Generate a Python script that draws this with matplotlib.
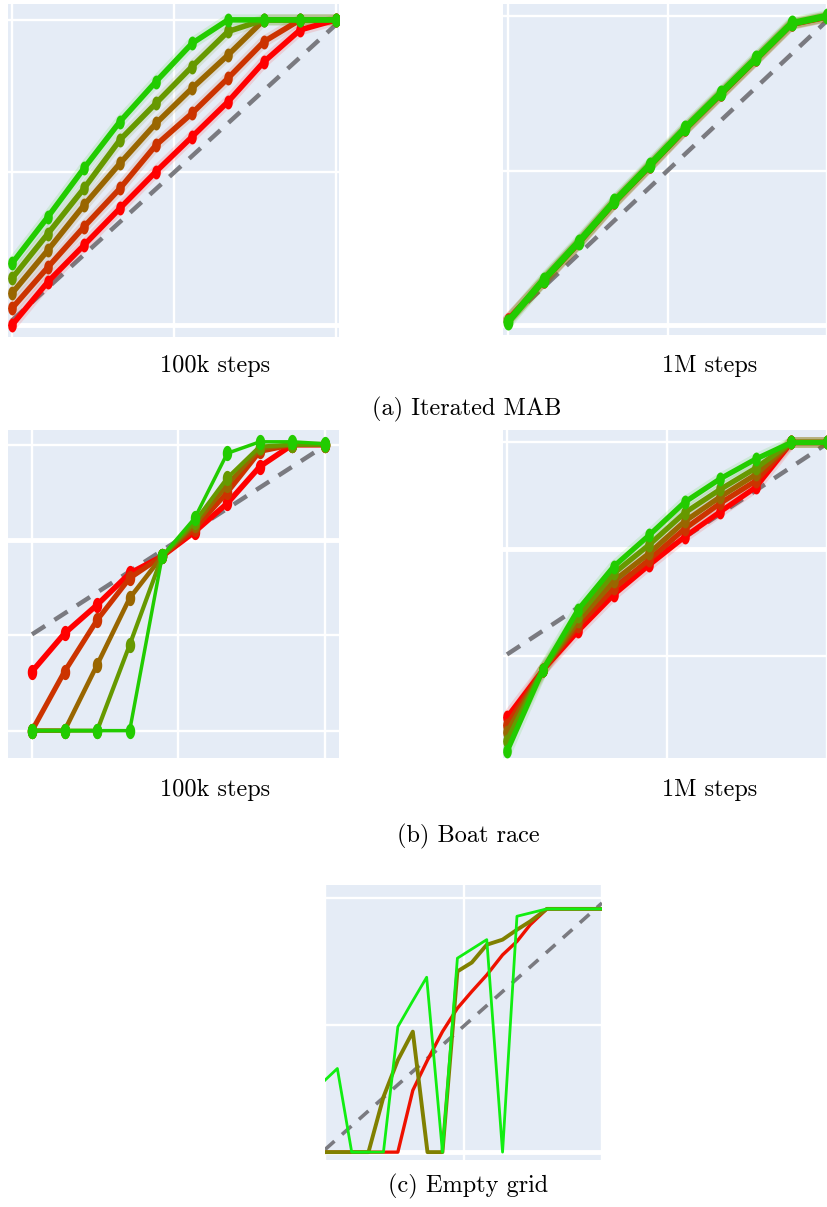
import numpy as np
import matplotlib.pyplot as plt

W, H = 827, 1207

steps = np.linspace(0, 1, 10)
colors = ['#ff0000', '#cc3300', '#996600', '#669900', '#22cc00']

# (a) Iterated MAB, 100k steps (red -> green)
mab_100k = [
    [0.0, 0.142, 0.262, 0.383, 0.503, 0.617, 0.732, 0.863, 0.967, 1.0],
    [0.055, 0.19, 0.322, 0.448, 0.59, 0.694, 0.809, 0.929, 1.0, 1.0],
    [0.104, 0.246, 0.393, 0.53, 0.661, 0.776, 0.885, 1.0, 1.0, 1.0],
    [0.153, 0.3, 0.448, 0.607, 0.727, 0.847, 0.962, 1.0, 1.0, 1.0],
    [0.202, 0.355, 0.514, 0.667, 0.798, 0.923, 1.0, 1.0, 1.0, 1.0],
]
# (a) Iterated MAB, 1M steps
mab_1m = [
    [0.02, 0.141, 0.265, 0.395, 0.513, 0.632, 0.745, 0.858, 0.972, 0.996],
    [0.018, 0.143, 0.267, 0.397, 0.515, 0.634, 0.747, 0.86, 0.974, 0.997],
    [0.015, 0.144, 0.268, 0.398, 0.516, 0.635, 0.748, 0.861, 0.975, 0.998],
    [0.013, 0.145, 0.269, 0.399, 0.517, 0.636, 0.749, 0.862, 0.975, 0.999],
    [0.011, 0.146, 0.27, 0.4, 0.518, 0.637, 0.75, 0.863, 0.976, 1.0],
]
mab_diag = [0.015, 0.985]

# (b) Boat race
boat_100k = [
    [-1.38, -0.98, -0.68, -0.35, -0.17, 0.087, 0.385, 0.77, 1.0, 1.0],
    [-2.0, -1.38, -0.84, -0.40, -0.17, 0.12, 0.5, 0.93, 1.0, 1.0],
    [-2.0, -2.0, -1.31, -0.61, -0.17, 0.16, 0.58, 0.96, 1.0, 1.0],
    [-2.0, -2.0, -2.0, -1.10, -0.17, 0.19, 0.65, 0.98, 1.0, 1.0],
    [-2.0, -2.0, -2.0, -2.0, -0.17, 0.23, 0.91, 1.03, 1.03, 1.01],
]
boat_1m = [
    [-1.58, -1.14, -0.77, -0.43, -0.15, 0.115, 0.35, 0.58, 1.0, 1.0],
    [-1.65, -1.14, -0.72, -0.37, -0.10, 0.19, 0.43, 0.64, 1.0, 1.0],
    [-1.72, -1.14, -0.68, -0.30, -0.04, 0.26, 0.49, 0.70, 1.0, 1.0],
    [-1.80, -1.14, -0.63, -0.23, 0.04, 0.34, 0.56, 0.76, 1.0, 1.0],
    [-1.90, -1.14, -0.57, -0.165, 0.13, 0.44, 0.66, 0.845, 1.0, 1.0],
]
boat_diag = [-0.99, 0.99]

# (c) Empty grid
grid_red_x = [0.0, 0.263, 0.317, 0.370, 0.424, 0.478, 0.530, 0.584, 0.641, 0.693, 0.741, 0.801, 1.0]
grid_red_y = [0.0, 0.0, 0.243, 0.362, 0.474, 0.566, 0.632, 0.697, 0.776, 0.829, 0.895, 0.957, 0.957]
grid_olive_x = [0.0, 0.157, 0.211, 0.263, 0.317, 0.370, 0.424, 0.478, 0.530, 0.584, 0.641, 0.693, 0.741, 0.801, 1.0]
grid_olive_y = [0.0, 0.0, 0.217, 0.362, 0.474, 0.0, 0.0, 0.711, 0.746, 0.816, 0.836, 0.875, 0.908, 0.957, 0.957]
grid_green_x = [0.0, 0.0446, 0.0964, 0.211, 0.263, 0.313, 0.367, 0.424, 0.478, 0.584, 0.641, 0.693, 0.801, 1.0]
grid_green_y = [0.283, 0.329, 0.0, 0.0, 0.493, 0.588, 0.688, 0.0, 0.763, 0.836, 0.0, 0.928, 0.957, 0.957]
grid_diag = [0.01, 0.98]

t = np.linspace(0, 2 * np.pi, 40)
ellipse = np.column_stack([0.62 * np.cos(t), np.sin(t)])

fig = plt.figure(figsize=(W / 100, H / 100), dpi=100)


def add_panel(x0, x1, y0, y1, xlim, ylim, yticks):
    ax = fig.add_axes([x0 / W, 1 - y1 / H, (x1 - x0) / W, (y1 - y0) / H])
    ax.set_facecolor('#e5ecf6')
    for s in ax.spines.values():
        s.set_visible(False)
    ax.set_xlim(xlim)
    ax.set_ylim(ylim)
    ax.set_xticks([0, 0.5, 1])
    ax.set_yticks(yticks)
    ax.set_xticklabels([])
    ax.set_yticklabels([])
    ax.tick_params(length=0)
    ax.grid(True, color='white', lw=1.7)
    ax.set_axisbelow(True)
    ax.axhline(0, color='white', lw=3.5, zorder=1)
    return ax


def draw_runs(ax, runs, diag, widths, sizes, halo=True):
    ax.plot([0, 1], diag, color='#6e6e73', lw=3.2, dashes=(3.5, 2.5), alpha=0.9, zorder=2)
    for vals, c, lw, ms in zip(runs, colors, widths, sizes):
        if halo:
            ax.plot(steps, vals, color=c, lw=lw + 4, alpha=0.12, zorder=3)
        ax.plot(steps, vals, color=c, lw=lw, marker=ellipse, ms=ms,
                mec=c, mfc=c, mew=0, zorder=4)


ax1 = add_panel(8, 339, 4, 337, (-0.0123, 1.009), (-0.039, 1.052), [0, 0.5, 1])
draw_runs(ax1, mab_100k, mab_diag, [4.0] * 5, [10] * 5)

ax2 = add_panel(503, 827, 4, 335, (-0.016, 1.0), (-0.032, 1.039), [0, 0.5, 1])
draw_runs(ax2, mab_1m, mab_diag, [3.6, 3.6, 3.6, 3.6, 5.0], [9, 9, 9, 9, 11.5])

ax3 = add_panel(8, 339, 430, 758, (-0.082, 1.048), (-2.287, 1.154), [-2, -1, 0, 1])
draw_runs(ax3, boat_100k, boat_diag, [4.0, 3.7, 3.3, 3.0, 2.5], [11] * 5, halo=False)

ax4 = add_panel(503, 827, 430, 758, (-0.0125, 1.0), (-1.962, 1.117), [-1, 0, 1])
draw_runs(ax4, boat_1m, boat_diag, [3.8] * 5, [10] * 5)

ax5 = add_panel(325, 602, 885, 1160, (0, 1), (-0.031, 1.051), [0, 0.5, 1])
ax5.plot([0, 1], grid_diag, color='#6e6e73', lw=2.6, dashes=(3.5, 2.8), alpha=0.9, zorder=2)
ax5.plot(grid_red_x, grid_red_y, color='#ee1100', lw=2.4, zorder=3)
ax5.plot(grid_olive_x, grid_olive_y, color='#808000', lw=2.8, zorder=4)
ax5.plot(grid_green_x, grid_green_y, color='#11ee11', lw=2.0, zorder=5)

font = dict(family='cmr10', fontsize=17.5, ha='center', va='baseline')
fig.text(215 / W, 1 - 372 / H, '100k steps', **font)
fig.text(710 / W, 1 - 372 / H, '1M steps', **font)
fig.text(467 / W, 1 - 415 / H, '(a) Iterated MAB', **font)
fig.text(215 / W, 1 - 796 / H, '100k steps', **font)
fig.text(710 / W, 1 - 796 / H, '1M steps', **font)
fig.text(468 / W, 1 - 842 / H, '(b) Boat race', **font)
fig.text(468 / W, 1 - 1192 / H, '(c) Empty grid', **font)

fig.savefig('out.png', dpi=100)
